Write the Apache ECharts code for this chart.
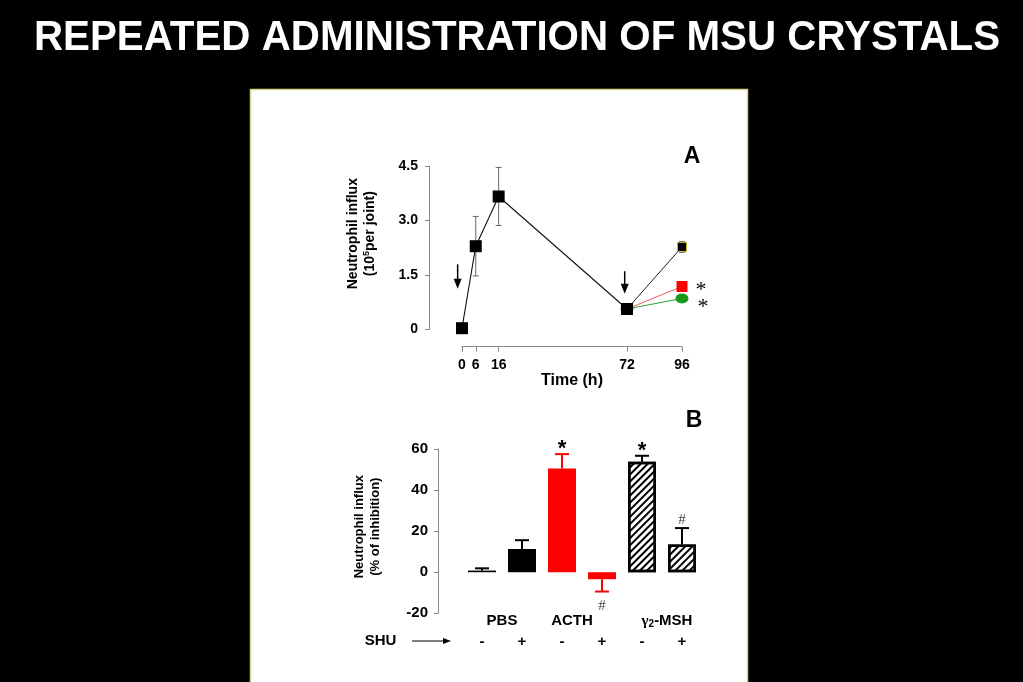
<!DOCTYPE html>
<html>
<head>
<meta charset="utf-8">
<script src="https://cdn.jsdelivr.net/npm/echarts@6/dist/echarts.min.js"></script>
<style>
html,body{margin:0;padding:0;background:#000;}
#c{width:1023px;height:682px;}
</style>
</head>
<body>
<div id="c"></div>
<script>
// ---------- Panel A data ----------
var timeTicks = [0, 6, 16, 72, 96];
var mainLine = [[0, 0.03], [6, 2.29], [16, 3.66], [72, 0.56]];
var blackEnd = [[72, 0.56], [96, 2.27]];
var redEnd = [[72, 0.56], [96, 1.18]];
var greenEnd = [[72, 0.56], [96, 0.85]];
var errA = [[6, 2.29, 0.82], [16, 3.66, 0.80], [96, 2.27, 0.15]];
var arrowsA = [[-1.9, 1.79, 1.12], [71, 1.60, 0.98]];

// ---------- Panel B data ----------
var barCats = ['-', '+', '-', '+', '-', '+'];
var groupCats = ['PBS', 'ACTH', 'γ2-MSH'];
var barValues = [0.8, 11.3, 50.5, -3.4, 53.8, 13.5];
var barErrors = [1.1, 4.3, 7.0, 6.0, 2.9, 8.0];
var barKinds = ['black', 'black', 'red', 'red', 'hatch', 'hatch'];
var barMarks = ['', '', '*', '#', '*', '#'];

var FONT = 'Liberation Sans, Arial, sans-serif';

var hatchDecal = {
  symbol: 'rect', symbolSize: 1,
  dashArrayX: [1, 0], dashArrayY: [2, 3],
  rotation: -Math.PI / 4, color: '#000'
};

function barStyle(kind) {
  if (kind === 'black') return {color: '#000'};
  if (kind === 'red') return {color: '#ff0000'};
  return {color: '#fff', borderColor: '#000', borderWidth: 2.5, decal: hatchDecal};
}

var chart = echarts.init(document.getElementById('c'));

var option = {
  backgroundColor: '#000',
  animation: false,
  graphic: [
    {type: 'rect', z: -10, shape: {x: 250.5, y: 89.5, width: 497, height: 600}, style: {fill: '#fff', stroke: '#d6d68a', lineWidth: 1.5}},
    {type: 'text', z: 10, x: 517, y: 38, scaleX: 0.96, originX: 0, originY: 0,
      style: {text: 'REPEATED ADMINISTRATION OF MSU CRYSTALS', font: 'bold 42px ' + FONT, fill: '#fff', align: 'center', verticalAlign: 'middle'}},
    {type: 'text', z: 10, x: 692, y: 157, style: {text: 'A', font: 'bold 23px ' + FONT, fill: '#000', align: 'center', verticalAlign: 'middle'}},
    {type: 'text', z: 10, x: 694, y: 421, style: {text: 'B', font: 'bold 23px ' + FONT, fill: '#000', align: 'center', verticalAlign: 'middle'}},
    {type: 'text', z: 10, x: 380.5, y: 641, style: {text: 'SHU', font: 'bold 15px ' + FONT, fill: '#000', align: 'center', verticalAlign: 'middle'}},
    {type: 'line', z: 10, shape: {x1: 412, y1: 641, x2: 446, y2: 641}, style: {stroke: '#000', lineWidth: 1.2}},
    {type: 'polygon', z: 10, shape: {points: [[451, 641], [443, 638], [443, 644]]}, style: {fill: '#000'}}
  ],
  grid: [
    {left: 462, right: 341, top: 166, height: 163.3},
    {left: 462, right: 321, top: 449, height: 164.3}
  ],
  xAxis: [
    {
      type: 'value', gridIndex: 0, min: 0, max: 96, offset: 17.4,
      name: 'Time (h)', nameLocation: 'middle', nameGap: 24,
      nameTextStyle: {color: '#000', fontFamily: FONT, fontWeight: 'bold', fontSize: 16},
      axisLine: {show: true, onZero: false, lineStyle: {color: '#888', width: 1}},
      axisTick: {show: true, length: 5, lineStyle: {color: '#888'}, customValues: timeTicks},
      axisLabel: {color: '#000', fontFamily: FONT, fontWeight: 'bold', fontSize: 14, margin: 11, customValues: timeTicks},
      splitLine: {show: false}
    },
    {
      type: 'category', gridIndex: 1, data: barCats, position: 'bottom', offset: 20,
      axisLine: {show: false}, axisTick: {show: false},
      axisLabel: {interval: 0, color: '#000', fontFamily: FONT, fontWeight: 'bold', fontSize: 15, margin: 1}
    },
    {
      type: 'category', gridIndex: 1, position: 'bottom', offset: 0,
      data: [
        {value: groupCats[0]},
        {value: groupCats[1], textStyle: {padding: [0, 20, 0, 0]}},
        {value: groupCats[2], textStyle: {padding: [0, 0, 0, 10]}}
      ],
      axisLine: {show: false}, axisTick: {show: false},
      axisLabel: {
        interval: 0, color: '#000', fontFamily: FONT, fontWeight: 'bold', fontSize: 15, margin: 0,
        formatter: function (v) { return v === 'γ2-MSH' ? '{g|γ}{s|2}{b|-MSH}' : v; },
        rich: {
          g: {fontFamily: 'Liberation Serif, serif', fontSize: 15, color: '#000'},
          s: {fontFamily: FONT, fontWeight: 'bold', fontSize: 10, color: '#000', verticalAlign: 'bottom', padding: [6, 0, 0, 0]},
          b: {fontFamily: FONT, fontWeight: 'bold', fontSize: 15, color: '#000'}
        }
      }
    }
  ],
  yAxis: [
    {
      type: 'value', gridIndex: 0, min: 0, max: 4.5, interval: 1.5, offset: 33,
      name: '{a|Neutrophil influx}\n{a|(10}{s|5}{a|per joint)}',
      nameLocation: 'middle', nameRotate: 90, nameGap: 50,
      nameTextStyle: {
        color: '#000', padding: [0, 0, 0, 28], lineHeight: 17,
        rich: {
          a: {fontFamily: FONT, fontWeight: 'bold', fontSize: 14, color: '#000', lineHeight: 17},
          s: {fontFamily: FONT, fontWeight: 'bold', fontSize: 9, color: '#000', verticalAlign: 'top', lineHeight: 17, padding: [0, 0, 6, 0]}
        }
      },
      axisLine: {show: true, onZero: false, lineStyle: {color: '#888', width: 1}},
      axisTick: {show: true, length: 4, lineStyle: {color: '#888'}},
      axisLabel: {color: '#000', fontFamily: FONT, fontWeight: 'bold', fontSize: 14, margin: 11,
        formatter: function (v) { return v === 0 ? '0' : v.toFixed(1); }},
      splitLine: {show: false}
    },
    {
      type: 'value', gridIndex: 1, min: -20, max: 60, interval: 20, offset: 24,
      name: 'Neutrophil influx\n(% of inhibition)',
      nameLocation: 'middle', nameRotate: 90, nameGap: 55,
      nameTextStyle: {color: '#000', fontFamily: FONT, fontWeight: 'bold', fontSize: 13, lineHeight: 16, padding: [0, 0, 0, 9]},
      axisLine: {show: true, onZero: false, lineStyle: {color: '#888', width: 1}},
      axisTick: {show: true, length: 4, lineStyle: {color: '#888'}},
      axisLabel: {color: '#000', fontFamily: FONT, fontWeight: 'bold', fontSize: 15, margin: 10},
      splitLine: {show: false}
    }
  ],
  series: [
    // error bars A
    {
      type: 'custom', xAxisIndex: 0, yAxisIndex: 0, z: 1, data: errA,
      renderItem: function (params, api) {
        var x = api.value(0), y = api.value(1), e = api.value(2);
        var top = api.coord([x, y + e]), bot = api.coord([x, y - e]);
        var st = {stroke: '#666', lineWidth: 1};
        return {type: 'group', children: [
          {type: 'line', shape: {x1: top[0], y1: top[1], x2: bot[0], y2: bot[1]}, style: st},
          {type: 'line', shape: {x1: top[0] - 3, y1: top[1], x2: top[0] + 3, y2: top[1]}, style: st},
          {type: 'line', shape: {x1: bot[0] - 3, y1: bot[1], x2: bot[0] + 3, y2: bot[1]}, style: st}
        ]};
      }
    },
    // injection arrows A
    {
      type: 'custom', xAxisIndex: 0, yAxisIndex: 0, z: 5, clip: false, data: arrowsA,
      renderItem: function (params, api) {
        var x = api.value(0);
        var top = api.coord([x, api.value(1)]), bot = api.coord([x, api.value(2)]);
        return {type: 'group', children: [
          {type: 'line', shape: {x1: top[0], y1: top[1], x2: bot[0], y2: bot[1] - 6}, style: {stroke: '#000', lineWidth: 1.5}},
          {type: 'polygon', shape: {points: [[bot[0], bot[1]], [bot[0] - 4, bot[1] - 10], [bot[0] + 4, bot[1] - 10]]}, style: {fill: '#000'}}
        ]};
      }
    },
    {
      type: 'line', xAxisIndex: 0, yAxisIndex: 0, z: 2, data: greenEnd,
      lineStyle: {color: '#2e9e2e', width: 1}, symbol: 'circle', symbolSize: [13, 10],
      itemStyle: {color: '#1a9a1a'}, showAllSymbol: true,
      label: {show: true, position: 'right', distance: 9, formatter: function (p) { return p.dataIndex === 1 ? '*' : ''; },
        fontFamily: 'Liberation Serif, serif', fontSize: 22, color: '#000', offset: [0, 9]}
    },
    {
      type: 'line', xAxisIndex: 0, yAxisIndex: 0, z: 2, data: redEnd,
      lineStyle: {color: '#e86060', width: 1}, symbol: 'rect', symbolSize: 11,
      itemStyle: {color: '#ff0000'},
      label: {show: true, position: 'right', distance: 8, formatter: function (p) { return p.dataIndex === 1 ? '*' : ''; },
        fontFamily: 'Liberation Serif, serif', fontSize: 22, color: '#000', offset: [0, 4]}
    },
    {
      type: 'line', xAxisIndex: 0, yAxisIndex: 0, z: 3, data: blackEnd,
      lineStyle: {color: '#222', width: 1}, symbol: 'rect', symbolSize: 9,
      itemStyle: {color: '#000', borderColor: '#c8b830', borderWidth: 1}
    },
    {
      type: 'line', xAxisIndex: 0, yAxisIndex: 0, z: 4, data: mainLine, clip: false,
      lineStyle: {color: '#111', width: 1.1}, symbol: 'rect', symbolSize: 12,
      itemStyle: {color: '#000'}
    },
    // Bars B
    {
      type: 'bar', xAxisIndex: 1, yAxisIndex: 1, barWidth: 28, z: 2,
      data: barValues.map(function (v, i) { return {value: v, itemStyle: barStyle(barKinds[i])}; })
    },
    // error bars + significance marks B
    {
      type: 'custom', xAxisIndex: 1, yAxisIndex: 1, z: 1,
      data: barValues.map(function (v, i) { return [i, v, v >= 0 ? v + barErrors[i] : v - barErrors[i]]; }),
      renderItem: function (params, api) {
        var i = api.value(0), v = api.value(1), end = api.value(2);
        var p0 = api.coord([i, v]), p1 = api.coord([i, end]);
        var col = barKinds[i] === 'red' ? '#ff0000' : '#000';
        var st = {stroke: col, lineWidth: 2};
        var up = end >= v;
        var mark = barMarks[i];
        var ch = [
          {type: 'line', shape: {x1: p0[0], y1: p0[1], x2: p1[0], y2: p1[1]}, style: st},
          {type: 'line', shape: {x1: p1[0] - 7, y1: p1[1], x2: p1[0] + 7, y2: p1[1]}, style: st}
        ];
        if (mark) {
          var isStar = mark === '*';
          ch.push({type: 'text', x: p1[0], y: isStar ? p1[1] + 6 : (up ? p1[1] - 1 : p1[1] + 7),
            style: {text: mark, align: 'center', verticalAlign: up ? 'bottom' : 'top',
              font: isStar ? 'bold 22px ' + FONT : '15px Liberation Serif, serif',
              fill: isStar ? '#000' : '#444'}});
        }
        return {type: 'group', children: ch};
      }
    }
  ]
};
chart.setOption(option);
</script>
</body>
</html>
